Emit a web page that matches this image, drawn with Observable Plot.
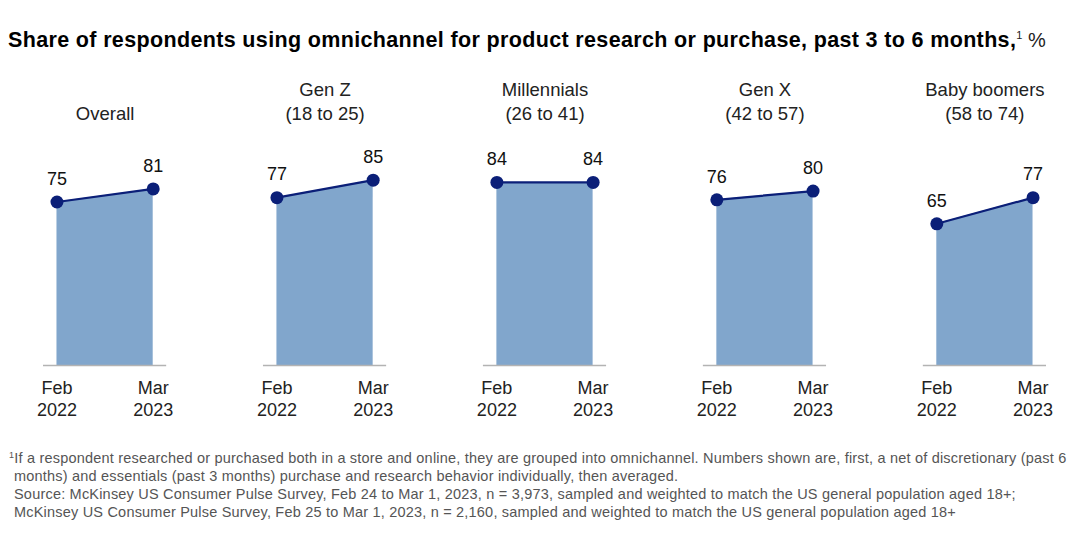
<!DOCTYPE html>
<html>
<head>
<meta charset="utf-8">
<script src="https://cdn.jsdelivr.net/npm/d3@7"></script>
<script src="https://cdn.jsdelivr.net/npm/@observablehq/plot@0.6"></script>
<style>
  html, body { margin: 0; padding: 0; background: #fff; width: 1080px; height: 545px; overflow: hidden; }
  #title { position: absolute; left: 8px; top: 28px; font-family: "Liberation Sans", Arial, sans-serif; font-weight: bold; font-size: 21.5px; letter-spacing: 0.35px; color: #000; white-space: nowrap; }
  #title .sup { font-weight: normal; font-size: 20px; color: #222; letter-spacing: 0; }
  #title sup { font-size: 11px; vertical-align: 8px; }
  #chart { position: absolute; left: 0; top: 60px; }
  #notes { position: absolute; left: 9px; top: 446px; font-family: "Liberation Sans", Arial, sans-serif; font-size: 14.5px; letter-spacing: 0.2px; line-height: 18px; color: #555; white-space: nowrap; }
  #notes sup { font-size: 9px; vertical-align: 5px; }
  #notes .ind { padding-left: 5px; }
</style>
</head>
<body>
<div id="title">Share of respondents using omnichannel for product research or purchase, past 3 to 6 months,<span class="sup"><sup>1</sup> %</span></div>
<div id="chart"></div>
<div id="notes">
  <div><sup>1</sup>If a respondent researched or purchased both in a store and online, they are grouped into omnichannel. Numbers shown are, first, a net of discretionary (past 6</div>
  <div class="ind">months) and essentials (past 3 months) purchase and research behavior individually, then averaged.</div>
  <div class="ind">Source: McKinsey US Consumer Pulse Survey, Feb 24 to Mar 1, 2023, n = 3,973, sampled and weighted to match the US general population aged 18+;</div>
  <div class="ind">McKinsey US Consumer Pulse Survey, Feb 25 to Mar 1, 2023, n = 2,160, sampled and weighted to match the US general population aged 18+</div>
</div>
<script>
const groups = ["Overall", "Gen Z\n(18 to 25)", "Millennials\n(26 to 41)", "Gen X\n(42 to 57)", "Baby boomers\n(58 to 74)"];
const periods = ["Feb\n2022", "Mar\n2023"];
const feb2022 = [75, 77, 84, 76, 65];
const mar2023 = [81, 85, 84, 80, 77];

const data = groups.flatMap((g, i) => [
  {group: g, period: periods[0], value: feb2022[i]},
  {group: g, period: periods[1], value: mar2023[i]}
]);

const font = '"Liberation Sans", Arial, sans-serif';

const chart = Plot.plot({
  width: 1080,
  height: 370,
  marginLeft: 43,
  marginRight: 34,
  marginTop: 87,
  marginBottom: 65,
  style: {fontFamily: font, fontSize: "18px", color: "#222", background: "transparent"},
  fx: {domain: groups, paddingInner: 0.44, paddingOuter: 0, round: false, label: null},
  x: {type: "point", domain: periods, padding: 0.14, round: false, label: null},
  y: {domain: [0, 100], axis: null},
  marks: [
    Plot.axisFx({anchor: "top", tickSize: 0, tickPadding: 28, fontSize: 18.5, lineHeight: 1.25, label: null, fill: "#222"}),
    Plot.axisX({anchor: "bottom", tickSize: 0, tickPadding: 13, fontSize: 18, lineHeight: 1.22, label: null, fill: "#222"}),
    Plot.areaY(data, {fx: "group", x: "period", y: "value", fill: "#81a6cc"}),
    Plot.ruleY([0], {stroke: "#b3b3b3", strokeWidth: 1.5}),
    Plot.lineY(data, {fx: "group", x: "period", y: "value", stroke: "#0b1f78", strokeWidth: 2.2}),
    Plot.dot(data, {fx: "group", x: "period", y: "value", r: 6.5, fill: "#0b1f78", stroke: "none"}),
    Plot.text(data, {fx: "group", x: "period", y: "value", text: d => String(d.value), dy: -23, fontSize: 18, fill: "#111"})
  ]
});
document.getElementById("chart").appendChild(chart);
</script>
</body>
</html>
